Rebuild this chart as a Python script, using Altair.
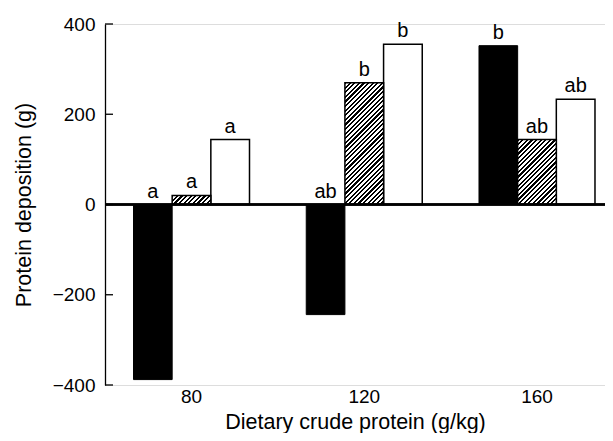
import altair as alt
import pandas as pd

# ---- data ----
categories = ["80", "120", "160"]
groups = ["black", "hatched", "white"]
black_values = [-388, -244, 352]
hatched_values = [20, 270, 144]
white_values = [144, 355, 233]
black_letters = ["a", "ab", "b"]
hatched_letters = ["a", "b", "ab"]
white_letters = ["a", "b", "ab"]
y_ticks = [-400, -200, 0, 200, 400]

rows = []
for i, c in enumerate(categories):
    for g, vals, lets in zip(groups,
                             [black_values, hatched_values, white_values],
                             [black_letters, hatched_letters, white_letters]):
        rows.append({"protein": c, "group": g, "value": vals[i], "letter": lets[i]})
df = pd.DataFrame(rows)
ticks_df = pd.DataFrame({"t": y_ticks})

# ---- layout ----
PLOT_W = 500
PLOT_H = 361
PAD_INNER = 0.3285
PAD_OUTER = 0.1115
ALIGN = 0.74
FONT = "Liberation Sans"

step = PLOT_W / (len(categories) - PAD_INNER + 2 * PAD_OUTER)
bar_w = step * (1 - PAD_INNER) / len(groups)
px_per_unit = PLOT_H / 800.0


def hatch_fill(w, h, period=4.6, ink=0.47):
    L = w + h
    a = w * L / (w * w + h * h)
    b = h * L / (w * w + h * h)
    p = period / L
    stops = []
    k = 0
    while k * p < 1:
        s = k * p
        m = min(s + p * ink, 1)
        e = min((k + 1) * p, 1)
        stops += [
            {"offset": round(s, 5), "color": "black"},
            {"offset": round(m, 5), "color": "black"},
            {"offset": round(m, 5), "color": "white"},
            {"offset": round(e, 5), "color": "white"},
        ]
        k += 1
    return {"gradient": "linear", "x1": 0, "y1": 0, "x2": a, "y2": b, "stops": stops}


x_enc = alt.X(
    "protein:N",
    sort=categories,
    scale=alt.Scale(domain=categories, paddingInner=PAD_INNER,
                    paddingOuter=PAD_OUTER, align=ALIGN),
    axis=alt.Axis(title="Dietary crude protein (g/kg)", labelAngle=0,
                  domain=False, ticks=False, labelPadding=2,
                  labelFontSize=19, titleFontSize=21.5, titleFontWeight="normal",
                  titleBaseline="alphabetic", titleY=43,
                  labelColor="black", titleColor="black",
                  labelFont=FONT, titleFont=FONT),
)
xo_enc = alt.XOffset("group:N", sort=groups,
                     scale=alt.Scale(domain=groups, paddingInner=0, paddingOuter=0))

y_scale = alt.Scale(domain=[-400, 400], nice=False)
y_axis = alt.Axis(values=y_ticks, ticks=False, grid=False, domainColor="black",
                  domainWidth=1.3, labelPadding=10, labelFontSize=19,
                  titleFontSize=21.5, titleFontWeight="normal",
                  titleBaseline="alphabetic", titleX=-75,
                  labelColor="black", titleColor="black", labelFont=FONT,
                  titleFont=FONT, title="Protein deposition (g)")


def y_enc(field):
    return alt.Y(field, scale=y_scale, axis=y_axis)


base = alt.Chart(df)

black_bars = base.mark_bar(fill="black", stroke="black", strokeWidth=1).encode(
    x=x_enc, xOffset=xo_enc, y=y_enc("value:Q")
).transform_filter(alt.datum.group == "black")

white_bars = base.mark_bar(fill="white", stroke="black", strokeWidth=1.5).encode(
    x=x_enc, xOffset=xo_enc, y=y_enc("value:Q")
).transform_filter(alt.datum.group == "white")

hatched_layers = []
for c, v in zip(categories, hatched_values):
    h = abs(v) * px_per_unit
    hatched_layers.append(
        base.mark_bar(fill=hatch_fill(bar_w, h), stroke="black", strokeWidth=1.5).encode(
            x=x_enc, xOffset=xo_enc, y=y_enc("value:Q")
        ).transform_filter(
            (alt.datum.group == "hatched") & (alt.datum.protein == c)
        )
    )

zero_line = alt.Chart(df).mark_rule(color="black", strokeWidth=1.5).encode(
    y=alt.Y(datum=0, scale=y_scale, axis=y_axis)
)

tick_marks = alt.Chart(ticks_df).mark_rule(color="black", strokeWidth=1.3).encode(
    y=y_enc("t:Q"), x=alt.value(0), x2=alt.value(8)
)

labels = base.mark_text(baseline="bottom", dy=-3, fontSize=20, font=FONT,
                        color="black").encode(
    x=x_enc, xOffset=xo_enc, y=y_enc("label_y:Q"), text="letter:N"
).transform_calculate(label_y="max(datum.value, 0)")

chart = alt.layer(
    black_bars, white_bars, *hatched_layers, zero_line, tick_marks, labels
).properties(
    width=PLOT_W, height=PLOT_H, autosize="none",
    padding={"left": 97, "top": 16, "right": 0, "bottom": 48},
).configure_view(stroke=None).configure(font=FONT, background="white")

chart.save("out.html", embed_options={"renderer": "svg", "actions": False})
